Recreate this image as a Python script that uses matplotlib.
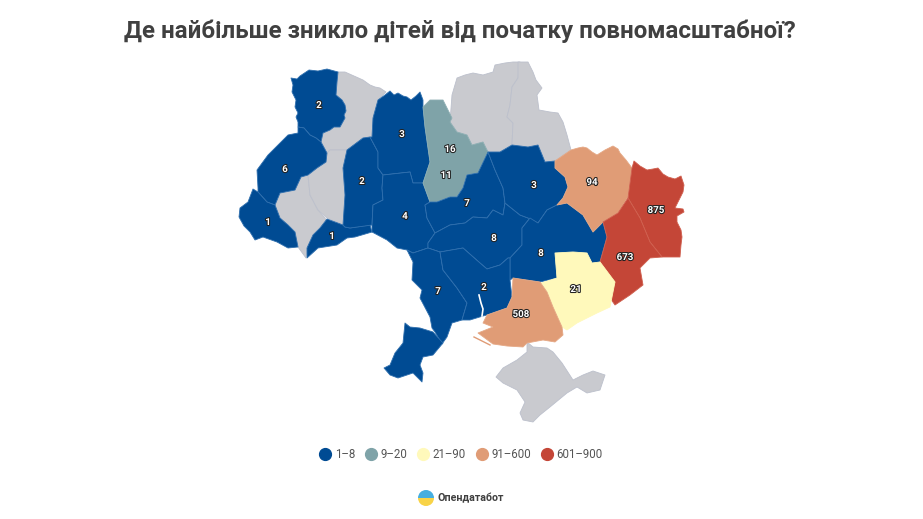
import numpy as np
import matplotlib
matplotlib.use('Agg')
import matplotlib.pyplot as plt
import matplotlib.patheffects as pe
from matplotlib.lines import Line2D
from matplotlib.patches import Polygon, Wedge

plt.rcParams['font.family'] = ['Roboto', 'Liberation Sans', 'DejaVu Sans']

title = 'Де найбільше зникло дітей від початку повномасштабної?'
bin_edges = [1, 9, 21, 91, 601]
bin_labels = ['1–8', '9–20', '21–90', '91–600', '601–900']
bin_colors = ['#004b93', '#7fa3a8', '#fff9bb', '#e09c76', '#c44637']
no_data = '#c9cacf'
edge_colors = ['#2f6fae', '#8fb0b4', '#fff9bb', '#e5a885', '#d0604f']

# контури областей, в пікселях картинки
volyn = [(291,78),(297,79),(300,76),(309,70),(318,71),(327,69),(338,72),(337,82),(336,95),(342,100),(345,105),(346,111),(344,115),(345,118),(340,127),(334,127),(330,130),(323,133),(321,142),(316,138),(310,135),(304,128),(298,127),(298,122),(296,117),(298,113),(295,107),(296,100),(292,92),(293,85)]
rivne = [(338,72),(345,72),(354,76),(363,80),(370,85),(375,87),(380,88),(386,92),(378,100),(373,118),(372,137),(363,138),(347,150),(330,150),(327,153),(321,142),(323,133),(330,130),(334,127),(340,127),(345,118),(344,115),(346,111),(345,105),(342,100),(336,95),(337,82)]
lviv = [(298,127),(304,128),(310,135),(316,138),(321,142),(327,153),(326,162),(317,168),(308,175),(301,177),(295,190),(280,193),(275,205),(267,202),(258,192),(258,188),(257,170),(268,155),(280,143),(288,135),(298,133)]
zakarpattia = [(253,189),(258,192),(267,202),(275,205),(280,218),(288,225),(295,232),(298,247),(288,248),(277,242),(263,237),(255,240),(250,232),(244,226),(239,217),(240,208),(248,202)]
frankivsk = [(301,177),(308,175),(310,195),(318,210),(325,218),(327,222),(320,228),(313,235),(307,248),(306,258),(298,247),(295,232),(288,225),(280,218),(275,205),(280,193),(295,190)]
ternopil = [(326,162),(327,153),(330,150),(347,150),(343,168),(345,195),(343,225),(327,218),(318,210),(310,195),(308,175),(317,168)]
chernivtsi = [(327,219),(343,225),(345,227),(350,228),(370,225),(372,232),(355,237),(347,238),(337,245),(318,248),(307,258),(307,248),(313,235),(320,228)]
khmelnytskyi = [(370,137),(378,152),(378,168),(383,175),(382,188),(383,200),(373,205),(372,225),(350,228),(345,227),(343,225),(345,195),(343,168),(347,150),(363,138)]
zhytomyr = [(378,100),(385,95),(390,91),(394,95),(398,93),(403,96),(407,97),(411,100),(416,96),(420,92),(423,100),(423,107),(425,127),(430,162),(423,183),(413,183),(410,172),(383,175),(378,168),(378,152),(370,137),(372,137),(373,118)]
kyiv = [(423,107),(430,100),(443,100),(448,110),(452,118),(450,122),(457,132),(467,135),(472,145),(483,142),(488,152),(478,173),(467,175),(463,188),(457,197),(450,197),(437,202),(430,202),(423,183),(430,162),(425,127)]
chernihiv = [(452,95),(457,78),(465,75),(473,73),(483,75),(493,72),(495,65),(505,63),(513,62),(520,62),(518,78),(512,87),(510,105),(507,117),(513,123),(512,145),(500,152),(488,152),(483,142),(472,145),(467,135),(457,132),(450,122)]
sumy = [(518,62),(528,62),(533,72),(536,80),(542,88),(537,95),(539,110),(550,112),(558,113),(563,122),(567,135),(571,150),(555,161),(545,162),(538,145),(528,147),(512,145),(513,123),(507,117),(510,105),(512,87),(518,78)]
poltava = [(488,152),(500,152),(512,145),(528,147),(538,145),(545,162),(555,161),(555,168),(565,177),(568,187),(563,198),(557,205),(547,210),(538,223),(528,218),(520,215),(505,203),(503,188),(495,170)]
kharkiv = [(555,161),(571,150),(578,148),(583,147),(587,148),(592,152),(597,155),(605,150),(613,146),(618,149),(620,153),(626,160),(632,168),(628,197),(618,213),(603,222),(593,232),(583,215),(567,203),(557,205),(563,198),(568,187),(565,177),(555,168)]
luhansk = [(634,161),(640,166),(647,170),(653,169),(658,168),(663,174),(668,177),(675,179),(681,176),(684,185),(683,192),(679,200),(675,208),(683,209),(684,212),(677,216),(677,222),(681,230),(682,237),(681,245),(680,257),(662,257),(650,242),(640,218),(628,198),(632,168)]
donetsk = [(628,198),(640,218),(650,242),(662,257),(650,258),(640,268),(643,285),(630,295),(615,305),(610,298),(615,282),(600,262),(607,237),(603,222),(618,213)]
dnipro = [(510,258),(522,245),(522,228),(530,218),(538,223),(547,210),(557,205),(567,203),(583,215),(593,232),(603,222),(607,237),(600,262),(592,263),(587,253),(573,252),(555,253),(557,278),(540,282),(513,278),(510,280)]
zaporizhzhia = [(555,253),(573,252),(587,253),(592,263),(600,262),(615,282),(610,307),(597,313),(577,323),(567,330),(562,327),(553,307),(547,292),(541,283),(557,278)]
kherson = [(513,278),(540,282),(547,292),(553,307),(562,327),(563,335),(555,342),(543,340),(527,343),(523,347),(507,346),(493,344),(478,333),(493,327),(483,323),(487,315),(507,308),(512,297)]
mykolaiv = [(440,252),(463,248),(480,263),(487,269),(500,265),(508,258),(510,258),(510,280),(512,297),(507,308),(487,315),(483,316),(470,320),(462,320),(467,303),(457,288),(443,270)]
odesa_north = [(407,250),(413,253),(428,248),(440,252),(443,270),(457,288),(467,303),(462,320),(452,323),(447,337),(442,344),(435,332),(432,328),(430,317),(420,298),(422,290),(412,280),(413,262)]
odesa_south = [(405,323),(410,327),(420,328),(433,332),(443,343),(433,355),(423,357),(420,365),(423,373),(422,382),(413,373),(398,378),(390,375),(384,368),(390,365),(395,353),(403,343)]
vinnytsia = [(383,175),(410,172),(413,183),(423,183),(430,202),(425,205),(427,218),(435,233),(428,243),(428,248),(413,253),(407,250),(397,248),(387,240),(372,232),(372,225),(373,205),(383,200),(382,188)]
cherkasy = [(450,197),(457,197),(463,188),(467,175),(478,173),(488,152),(495,170),(503,188),(505,203),(503,215),(493,210),(487,218),(473,217),(465,223),(450,225),(435,233),(427,218),(425,205),(430,202),(437,202)]
kirovohrad = [(450,225),(465,223),(473,217),(487,218),(493,210),(503,215),(505,203),(520,215),(528,218),(530,218),(522,228),(522,245),(510,258),(508,258),(500,265),(487,269),(480,263),(463,248),(440,252),(428,248),(428,243),(435,233)]
crimea = [(527,342),(533,347),(547,348),(553,352),(562,363),(573,380),(583,375),(593,371),(605,375),(600,390),(587,393),(577,387),(567,393),(550,407),(540,415),(533,422),(523,420),(520,413),(525,402),(517,390),(503,383),(496,377),(503,368),(517,360),(527,352)]

regions = [rivne, frankivsk, ternopil, chernihiv, sumy, crimea,
           volyn, lviv, zakarpattia, chernivtsi, khmelnytskyi, zhytomyr, vinnytsia, kyiv, cherkasy,
           kirovohrad, poltava, dnipro, odesa_north, odesa_south, mykolaiv,
           kharkiv, luhansk, donetsk, zaporizhzhia, kherson]
# зниклі діти, None - немає даних
region_values = [None, None, None, None, None, None,
                 2, 6, 1, 1, 2, 3, 4, 16, 7,
                 8, 3, 8, 7, 7, 2,
                 94, 875, 673, 21, 508]

label_text = ['2', '3', '16', '11', '6', '2', '1', '1', '4', '7', '3', '94', '875', '673', '8', '8', '21', '508', '7', '2']
label_x = [319, 402, 450, 446, 285, 362, 268, 332, 405, 467, 534, 592, 656, 625, 494, 541, 576, 521, 438, 484]
label_y = [105, 134, 149, 175, 169, 181, 222, 236, 216, 203, 185, 182, 210, 257, 238, 253, 289, 314, 291, 287]

fig = plt.figure(figsize=(9.23, 5.19), dpi=100)
ax = fig.add_axes([0, 0, 1, 1])
ax.set_xlim(0, 923)
ax.set_ylim(519, 0)
ax.axis('off')

for outline, value in zip(regions, region_values):
    if value is None:
        face, edge = no_data, '#bcc0cc'
    else:
        k = np.digitize(value, bin_edges) - 1
        face, edge = bin_colors[k], edge_colors[k]
    ax.add_patch(Polygon(outline, closed=True, facecolor=face, edgecolor=edge, linewidth=0.6, joinstyle='round'))

# лимани
ax.plot([479, 481, 483, 482], [295, 303, 309, 316], color='white', lw=1.2)
ax.plot([474, 482, 490], [337, 341, 345], color='#e09c76', lw=1)

for s, x, y in zip(label_text, label_x, label_y):
    ax.text(x, y, s, ha='center', va='center', fontsize=7, fontweight='bold', color='white',
            path_effects=[pe.withStroke(linewidth=1.5, foreground='#222222')])

ax.text(460, 31, title, ha='center', va='center', fontsize=17.4, fontweight='bold', color='#404040')

handles = [Line2D([], [], ls='', marker='o', ms=8.5, color=c) for c in bin_colors]
ax.legend(handles, bin_labels, ncol=5, loc='center', bbox_to_anchor=(461 / 923, 1 - 455 / 519), frameon=False,
          fontsize=8.3, labelcolor='#555555', handletextpad=0.3, columnspacing=0.9, handlelength=1)

# логотип
ax.add_patch(Wedge((426, 498), 8, 180, 360, facecolor='#45aee0', edgecolor='none'))
ax.add_patch(Wedge((426, 498), 8, 0, 180, facecolor='#f8d347', edgecolor='none'))
ax.text(438, 498, 'Опендатабот', ha='left', va='center', fontsize=7.7, fontweight='bold', color='#404040')

fig.savefig('out.png', dpi=100)
